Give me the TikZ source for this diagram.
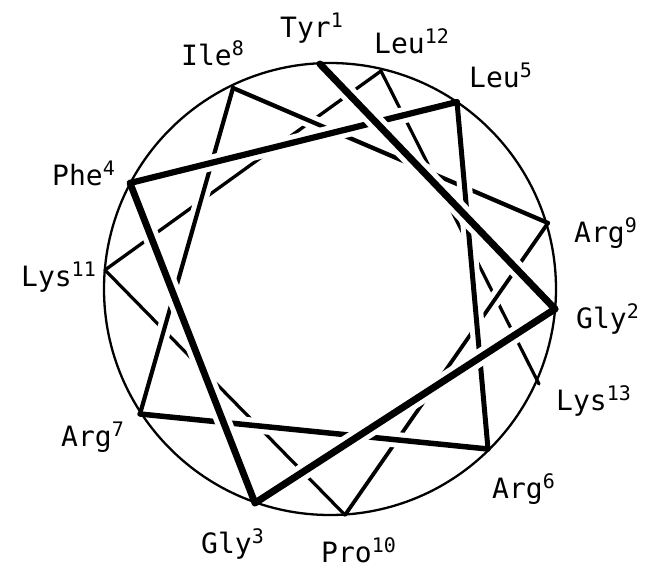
\documentclass[tikz,border=0pt]{standalone}
\usepackage{fontspec}
\newfontfamily\labfont{DejaVu Sans Mono}
\newcommand\rsup[1]{\raisebox{9.5pt}{\fontsize{20}{20}\selectfont #1}}
\begin{document}
\begin{tikzpicture}[x=1pt,y=-1pt,
  seg/.style={line width=#1, line cap=round,
    preaction={draw=white, line width=#1+10pt, line cap=butt, shorten <=15pt, shorten >=15pt}},
  lab/.style={anchor=base west, inner sep=0pt, font=\labfont\fontsize{28}{30}\selectfont},
  labr/.style={lab, anchor=base east}]
\useasboundingbox (0,0) rectangle (648,568);
% residues on the wheel
\coordinate (r1) at (320,64);
\coordinate (r2) at (555,309);
\coordinate (r3) at (255,503);
\coordinate (r4) at (130,183);
\coordinate (r5) at (457,102);
\coordinate (r6) at (488,449);
\coordinate (r7) at (140,414);
\coordinate (r8) at (233,88);
\coordinate (r9) at (548,223);
\coordinate (r10) at (345,515);
\coordinate (r11) at (105,270);
\coordinate (r12) at (381,71);
\coordinate (r13) at (539,384);
\coordinate (c) at (330,289);
% segments, back to front
\draw[seg=3.2pt] (r12) -- (r13);
\draw[seg=3.3pt] (r11) -- (r12);
\draw[seg=3.2pt] (r10) -- (r11);
\draw[seg=3.8pt] (r9) -- (r10);
\draw[seg=4.3pt] (r8) -- (r9);
\draw[seg=4.2pt] (r7) -- (r8);
\draw[seg=5.5pt] (r6) -- (r7);
\draw[seg=5pt] (r5) -- (r6);
\draw[seg=6.2pt] (r4) -- (r5);
\draw[seg=6.8pt] (r3) -- (r4);
\draw[seg=7pt] (r2) -- (r3);
\draw[seg=7pt] (r1) -- (r2);
\draw[line width=2.3pt] (c) circle (226pt);
% labels
\node[lab] (l1) at (280,37) {Tyr\rsup{1}};
\node[lab] (l2) at (576,328) {Gly\rsup{2}};
\node[lab] (l3) at (201,553) {Gly\rsup{3}};
\node[labr] (l4) at (115,185) {Phe\rsup{4}};
\node[lab] (l5) at (469,87) {Leu\rsup{5}};
\node[lab] (l6) at (492,498) {Arg\rsup{6}};
\node[labr] (l7) at (124,446) {Arg\rsup{7}};
\node[lab] (l8) at (181,65) {Ile\rsup{8}};
\node[lab] (l9) at (574,242) {Arg\rsup{9}};
\node[lab, text depth=0pt] (l10) at (321,562) {Pro\rsup{10}};
\node[labr] (l11) at (96,286) {Lys\rsup{11}};
\node[lab] (l12) at (374,53) {Leu\rsup{12}};
\node[lab] (l13) at (556,410) {Lys\rsup{13}};
\end{tikzpicture}
\end{document}
